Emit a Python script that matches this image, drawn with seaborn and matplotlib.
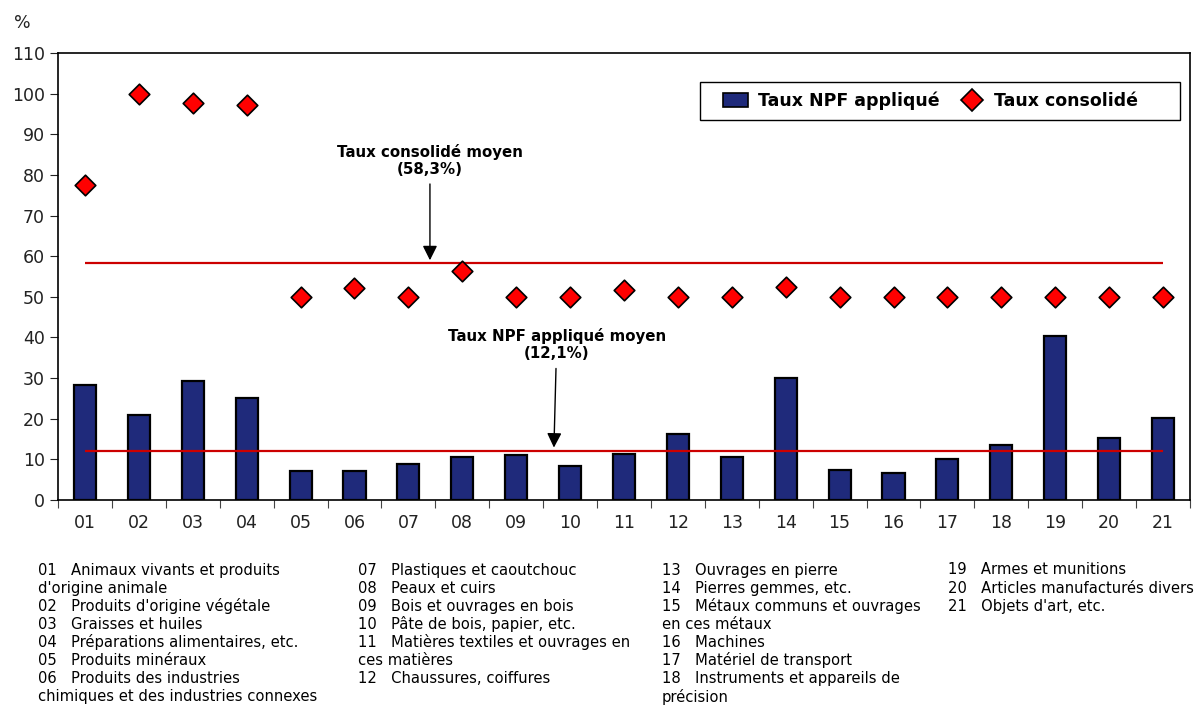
import matplotlib
matplotlib.use("Agg")
import matplotlib.pyplot as plt
from matplotlib.lines import Line2D
from matplotlib.patches import Patch, Rectangle
import numpy as np
import pandas as pd
import seaborn as sns

# Sections du Système harmonisé
sections = ["01", "02", "03", "04", "05", "06", "07", "08", "09", "10", "11",
            "12", "13", "14", "15", "16", "17", "18", "19", "20", "21"]
taux_npf = [28.3, 21.0, 29.3, 25.2, 7.1, 7.1, 8.9, 10.7, 11.0, 8.4, 11.2,
            16.2, 10.5, 30.1, 7.5, 6.7, 10.2, 13.6, 40.3, 15.2, 20.2]
taux_consolide = [77.5, 100.0, 97.8, 97.3, 50.0, 52.2, 50.0, 56.4, 50.0, 50.0, 51.6,
                  50.0, 50.0, 52.3, 50.0, 50.0, 50.0, 50.0, 50.0, 50.0, 50.0]
moyenne_npf = 12.1
moyenne_consolide = 58.3
yticks = list(range(0, 111, 10))

libelles = [
    ["01", "Animaux vivants et produits\nd'origine animale"],
    ["02", "Produits d'origine végétale"],
    ["03", "Graisses et huiles"],
    ["04", "Préparations alimentaires, etc."],
    ["05", "Produits minéraux"],
    ["06", "Produits des industries\nchimiques et des industries connexes"],
    ["07", "Plastiques et caoutchouc"],
    ["08", "Peaux et cuirs"],
    ["09", "Bois et ouvrages en bois"],
    ["10", "Pâte de bois, papier, etc."],
    ["11", "Matières textiles et ouvrages en\nces matières"],
    ["12", "Chaussures, coiffures"],
    ["13", "Ouvrages en pierre"],
    ["14", "Pierres gemmes, etc."],
    ["15", "Métaux communs et ouvrages\nen ces métaux"],
    ["16", "Machines"],
    ["17", "Matériel de transport"],
    ["18", "Instruments et appareils de\nprécision"],
    ["19", "Armes et munitions"],
    ["20", "Articles manufacturés divers"],
    ["21", "Objets d'art, etc."],
]

sns.set_theme(style="white")
plt.rcParams["font.family"] = ["DejaVu Sans"]
plt.rcParams["text.color"] = "black"

BAR = "#1f2a7b"
RED = "#ff0000"
LINE_RED = "#cc0000"

W, H = 1197, 705
AX_L, AX_R, AX_T, AX_B = 58, 1190, 53, 500

df = pd.DataFrame({"section": sections, "npf": taux_npf, "consolide": taux_consolide})

fig = plt.figure(figsize=(W / 100, H / 100), dpi=100)
ax = fig.add_axes([AX_L / W, 1 - AX_B / H, (AX_R - AX_L) / W, (AX_B - AX_T) / H])


def ax_frac(px, py):
    """Pixel position in the figure -> axes fraction."""
    return (px - AX_L) / (AX_R - AX_L), (AX_B - py) / (AX_B - AX_T)


sns.barplot(data=df, x="section", y="npf", order=sections, color=BAR,
            width=0.41, edgecolor="black", linewidth=1.6, saturation=1, ax=ax)

pos = np.arange(len(sections))
ax.hlines([moyenne_consolide, moyenne_npf], pos[0], pos[-1], colors=LINE_RED, lw=1.6, zorder=3)

sns.scatterplot(x=pos, y=df["consolide"], marker="D", s=110, color=RED,
                edgecolor="black", linewidth=1.2, zorder=4, ax=ax, legend=False)

ax.set_xlim(-0.5, len(sections) - 0.5)
ax.set_ylim(0, 110)
ax.set_yticks(yticks)
ax.set_xticks(pos)
ax.set_xticklabels(sections)
ax.set_xticks(np.arange(-0.5, len(sections)), minor=True)
ax.tick_params(axis="x", which="major", length=0, pad=10, labelsize=12.5, colors="#222222")
ax.tick_params(axis="x", which="minor", length=6, width=0.8, direction="out", bottom=True, color="#444444")
ax.tick_params(axis="y", length=6, width=0.8, direction="out", left=True, labelsize=12.5, colors="#222222")
ax.set_xlabel("")
ax.set_ylabel("")
for s in ax.spines.values():
    s.set_color("black")
    s.set_linewidth(1.2)

fig.text(22 / W, 1 - 23 / H, "%", fontsize=12.5, ha="center", va="center", color="#222222")

# Annotations des moyennes
fleche = dict(arrowstyle="-|>", color="black", lw=1, mutation_scale=22, shrinkA=3, shrinkB=0)
ax.annotate("Taux consolidé moyen\n(58,3%)", xy=(6.4, moyenne_consolide + 0.7),
            xytext=(6.4, 79.6), ha="center", va="bottom", fontsize=10.8, fontweight="bold",
            linespacing=1.15, color="black", arrowprops=fleche)
ax.annotate("Taux NPF appliqué moyen\n(12,1%)", xy=(8.7, moyenne_npf + 0.8),
            xytext=(8.75, 34.2), ha="center", va="bottom", fontsize=10.8, fontweight="bold",
            linespacing=1.15, color="black", arrowprops=fleche)

# Légende dans un cadre rectangulaire
x0, y0 = ax_frac(700, 120)
x1, y1 = ax_frac(1180, 82)
ax.add_patch(Rectangle((x0, y0), x1 - x0, y1 - y0, transform=ax.transAxes,
                       facecolor="white", edgecolor="black", lw=1.0, zorder=5))

handles = [Patch(facecolor=BAR, edgecolor="black", linewidth=1.2, label="Taux NPF appliqué"),
           Line2D([], [], marker="D", linestyle="none", markersize=11, markerfacecolor=RED,
                  markeredgecolor="black", markeredgewidth=1.2, label="Taux consolidé")]
leg = ax.legend(handles=handles, ncol=2, loc="center left",
                bbox_to_anchor=ax_frac(723, 101),
                frameon=False, prop={"weight": "bold", "size": 12.5},
                handlelength=1.45, handleheight=0.85, labelcolor="black",
                handletextpad=0.55, columnspacing=1.15, borderpad=0, borderaxespad=0)
leg.set_zorder(6)

# Liste des sections sous le graphique
colonnes_x = [38, 358, 662, 948]
groupes = [libelles[0:6], libelles[6:12], libelles[12:18], libelles[18:21]]
ly0 = 570
pas = 18.1
for cx, groupe in zip(colonnes_x, groupes):
    ligne = 0
    for code, texte in groupe:
        parts = texte.split("\n")
        for i, p in enumerate(parts):
            s = f"{code}   {p}" if i == 0 else p
            fig.text(cx / W, 1 - (ly0 + ligne * pas) / H, s, fontsize=10.6,
                     ha="left", va="center", color="black")
            ligne += 1

fig.savefig("out.png", dpi=100)
